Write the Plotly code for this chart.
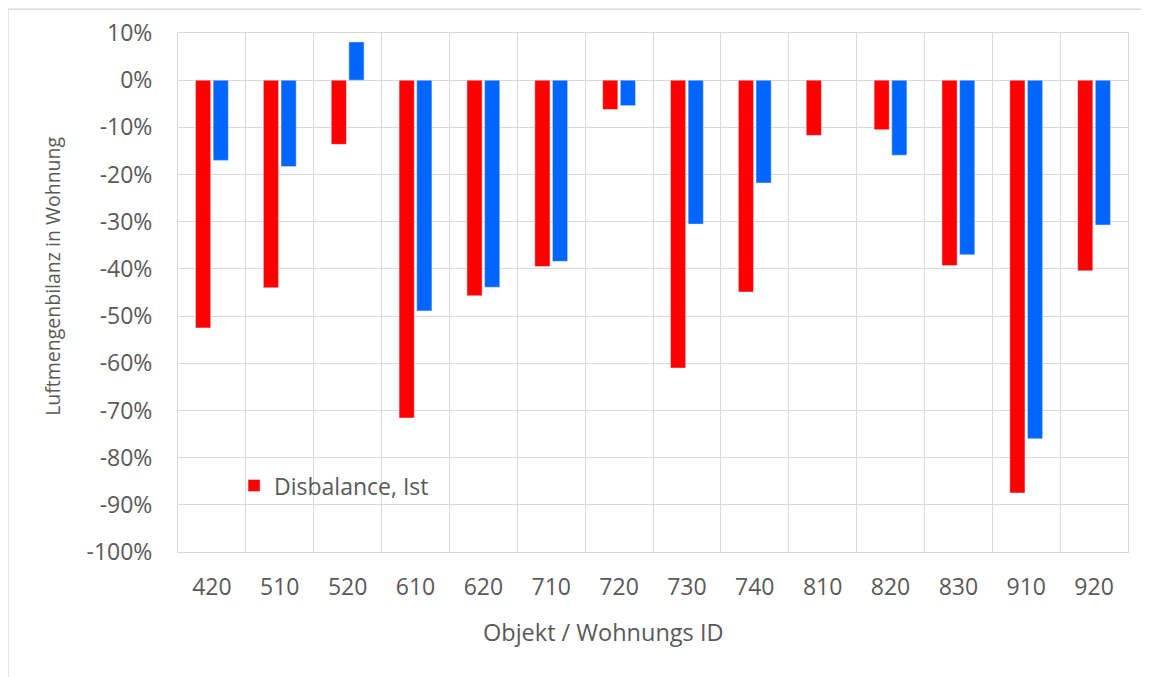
import plotly.graph_objects as go

objekte = ["420", "510", "520", "610", "620", "710", "720", "730", "740", "810", "820", "830", "910", "920"]
disbalance_ist = [-52.5, -44.0, -13.6, -71.6, -45.7, -39.5, -6.2, -61.0, -44.9, -11.7, -10.5, -39.3, -87.5, -40.4]
disbalance_blau = [-17.0, -18.3, 8.1, -48.9, -43.9, -38.4, -5.4, -30.5, -21.8, None, -15.9, -37.0, -76.0, -30.7]
y_ticks = list(range(-100, 11, 10))

_GRAU = "#595959"
_LINIE = "#d9d9d9"
_FONT = "Open Sans, sans-serif"

fig = go.Figure()
fig.add_trace(go.Bar(x=objekte, y=disbalance_ist, name="Disbalance, Ist", marker_color="#ff0000"))
fig.add_trace(go.Bar(x=objekte, y=disbalance_blau, name="Disbalance", marker_color="#0066ff",
                     showlegend=False))

fig.update_layout(
    width=1149,
    height=677,
    margin={"l": 170, "r": 29, "t": 25, "b": 133, "autoexpand": False},
    plot_bgcolor="white",
    paper_bgcolor="white",
    barmode="group",
    bargap=0.48,
    bargroupgap=0.14,
    font={"family": _FONT, "size": 23, "color": _GRAU},
    legend={"x": 0.059, "y": 0.128, "xanchor": "left", "yanchor": "middle",
            "bgcolor": "rgba(0,0,0,0)", "font": {"size": 23, "color": _GRAU}},
    shapes=[
        # Rahmen um das Diagramm
        {"type": "rect", "xref": "paper", "yref": "paper", "x0": -0.179, "x1": 1.05,
         "y0": -0.3, "y1": 1.046, "line": {"color": _LINIE, "width": 1.5}, "layer": "below"},
        # weiße Legendenfläche
        {"type": "rect", "xref": "paper", "yref": "paper", "x0": 0.037, "x1": 0.295,
         "y0": 0.019, "y1": 0.183, "fillcolor": "white", "line": {"width": 0}, "layer": "below"},
    ],
    annotations=[
        {"text": "Luftmengenbilanz in Wohnung", "xref": "paper", "yref": "paper",
         "x": -0.1316, "y": 0.532, "xanchor": "center", "yanchor": "middle",
         "textangle": -90, "showarrow": False, "font": {"size": 19.5, "color": _GRAU}},
        {"text": "Objekt / Wohnungs ID", "xref": "paper", "yref": "paper",
         "x": 0.448, "y": -0.154, "xanchor": "center", "yanchor": "middle",
         "showarrow": False, "font": {"size": 23.5, "color": _GRAU}},
    ],
)
fig.update_xaxes(
    type="category",
    tickson="boundaries",
    automargin=False,
    showgrid=True,
    gridcolor=_LINIE,
    showline=True,
    mirror=True,
    linecolor=_LINIE,
    ticks="",
    ticklabelstandoff=14,
)
fig.update_yaxes(
    range=[-100, 10],
    tickvals=y_ticks,
    ticktext=[f"{v}%" for v in y_ticks],
    automargin=False,
    showgrid=True,
    gridcolor=_LINIE,
    zeroline=False,
    showline=True,
    mirror=True,
    linecolor=_LINIE,
    ticks="",
    ticklabelstandoff=20,
)

fig.write_html("out.html")
